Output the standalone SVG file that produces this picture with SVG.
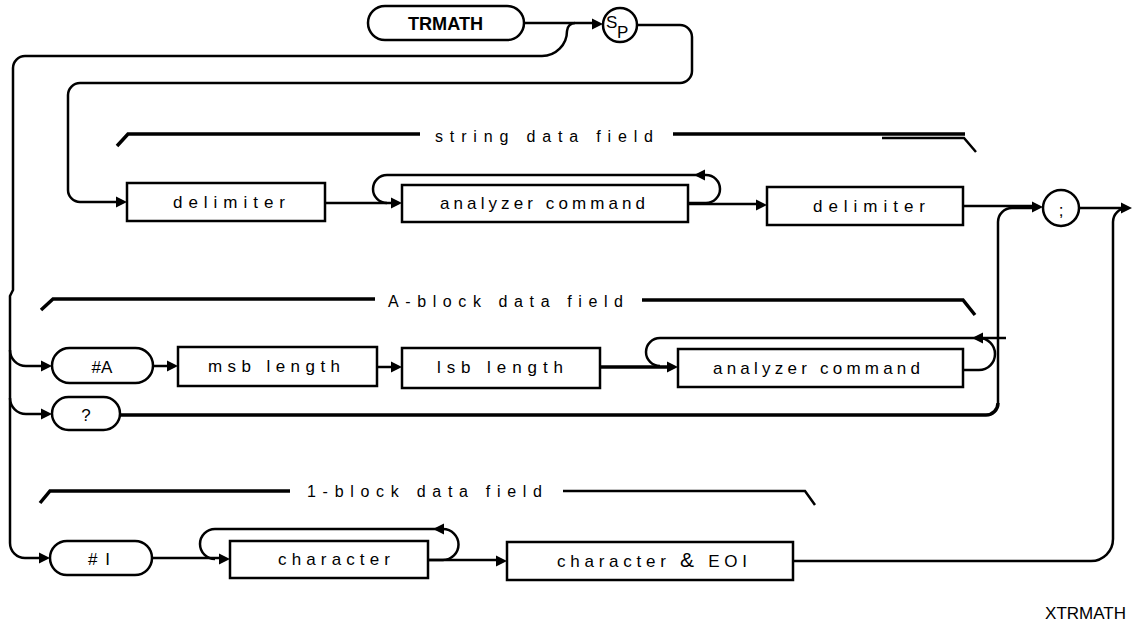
<svg xmlns="http://www.w3.org/2000/svg" xmlns:xlink="http://www.w3.org/1999/xlink" width="1132" height="625" viewBox="0 0 1132 625">
<style>
.ln{fill:none;stroke:#000;stroke-width:2.5}
.th{fill:none;stroke:#000;stroke-width:3.5}
.bx{fill:#fff;stroke:#000;stroke-width:2.5}
.t{font-family:"Liberation Sans",Arial,sans-serif;font-size:17px;fill:#000}
.f{font-family:"Liberation Sans",Arial,sans-serif;font-size:16px;fill:#000}
.b{font-family:"Liberation Sans",Arial,sans-serif;font-size:19px;font-weight:bold;fill:#000}
</style>
<defs>
<path id="ar" d="M0,0 L-11,-5.5 L-11,5.5 Z" fill="#000"/>
</defs>
<rect width="1132" height="625" fill="#fff"/>
<g id="connectors">
<path class="ln" d="M575,23 A8 8 0 0 0 567,31 A25 25 0 0 1 542,56 H25 A12 12 0 0 0 13,68 V290 L10,296 V543 A15 15 0 0 0 25,558 H40"/>
<path class="ln" d="M10,350 A16 16 0 0 0 26,366 H42"/>
<path class="ln" d="M10,398 A16 16 0 0 0 26,414 H42"/>
<path class="ln" d="M524,23 H593"/>
<path class="ln" d="M637,25 H680 A12 12 0 0 1 692,37 V71 A12 12 0 0 1 680,83 H80 A12 12 0 0 0 68,95 V190 A12 12 0 0 0 80,202 H117"/>
<path class="ln" d="M325,203 H392"/>
<path class="ln" d="M688,203 H706 A14 14 0 0 0 706,175 H387 A14 14 0 0 0 387,203"/>
<path class="ln" d="M688,204 H757"/>
<path class="ln" d="M963,206 H1033"/>
<path class="ln" d="M1079,208 H1122"/>
<path class="ln" d="M793,561 H1091 A22 22 0 0 0 1113,539 V222 A14 14 0 0 1 1127,208"/>
<path class="th" d="M120,415 H986 A12 12 0 0 0 998,403"/>
<path class="ln" d="M998,403 V222 A14 14 0 0 1 1012,208 H1033"/>
<path class="ln" d="M153,366 H168"/>
<path class="ln" d="M377,367 H392"/>
<path class="th" d="M600,367 H668"/>
<path class="ln" d="M963,370 H979 A16 16 0 0 0 979,338 H660 A14 14 0 0 0 660,366"/>
<path class="ln" d="M979,338 H1006"/>
<path class="ln" d="M152,558 H220"/>
<path class="ln" d="M428,560 H443 A15.5 15.5 0 0 0 443,529 H215 A15 15 0 0 0 215,559"/>
<path class="ln" d="M428,560 H497"/>
<use xlink:href="#ar" transform="translate(603,24)"/>
<use xlink:href="#ar" transform="translate(127,202)"/>
<use xlink:href="#ar" transform="translate(402,203)"/>
<use xlink:href="#ar" transform="translate(694,175) rotate(180)"/>
<use xlink:href="#ar" transform="translate(767,205)"/>
<use xlink:href="#ar" transform="translate(1043,207)"/>
<use xlink:href="#ar" transform="translate(1132,208)"/>
<use xlink:href="#ar" transform="translate(52,366)"/>
<use xlink:href="#ar" transform="translate(52,414)"/>
<use xlink:href="#ar" transform="translate(178,366)"/>
<use xlink:href="#ar" transform="translate(402,367)"/>
<use xlink:href="#ar" transform="translate(678,367)"/>
<use xlink:href="#ar" transform="translate(972,338) rotate(180)"/>
<use xlink:href="#ar" transform="translate(50,558)"/>
<use xlink:href="#ar" transform="translate(230,559)"/>
<use xlink:href="#ar" transform="translate(433,529) rotate(180)"/>
<use xlink:href="#ar" transform="translate(507,561)"/>
</g>
<g id="brackets">
<path class="th" d="M117,146 L128,134 H420"/>
<text class="f" x="435" y="142" textLength="218" lengthAdjust="spacing">string data field</text>
<path class="th" d="M673,134 H965"/>
<path class="ln" d="M882,138 H964 L976,152"/>
<path class="th" d="M41,310 L53,299 H375"/>
<text class="f" x="388" y="307" textLength="235" lengthAdjust="spacing">A-block data field</text>
<path class="th" d="M642,300 H963 L975,315"/>
<path class="th" d="M40,503 L50,491 H290"/>
<text class="f" x="307" y="497" textLength="235" lengthAdjust="spacing">1-block data field</text>
<path class="ln" d="M563,491 H805 L815,505"/>
</g>
<g id="trmath">
<rect class="bx" x="368" y="6" width="156" height="34" rx="17"/>
<text class="b" x="408" y="30" textLength="75" lengthAdjust="spacingAndGlyphs">TRMATH</text>
</g>
<g id="sp">
<circle class="bx" cx="620" cy="25" r="17"/>
<text class="t" x="606" y="28" font-size="18">S</text>
<text class="t" x="617" y="38" font-size="18">P</text>
</g>
<g id="delimiter1">
<rect class="bx" x="127" y="183" width="198" height="38"/>
<text class="t" x="173" y="208" textLength="112" lengthAdjust="spacing">delimiter</text>
</g>
<g id="analyzer1">
<rect class="bx" x="402" y="185" width="286" height="37"/>
<text class="t" x="440" y="209" textLength="205" lengthAdjust="spacing">analyzer command</text>
</g>
<g id="delimiter2">
<rect class="bx" x="767" y="187" width="196" height="38"/>
<text class="t" x="813" y="212" textLength="112" lengthAdjust="spacing">delimiter</text>
</g>
<g id="semicolon">
<circle class="bx" cx="1061" cy="208" r="18"/>
<text class="t" x="1061" y="216" font-size="24" text-anchor="middle">;</text>
</g>
<g id="hashA">
<rect class="bx" x="52" y="348" width="101" height="35" rx="17.5"/>
<text class="t" x="102" y="373" font-size="18" text-anchor="middle">#A</text>
</g>
<g id="msb">
<rect class="bx" x="178" y="347" width="199" height="39"/>
<text class="t" x="208" y="372" textLength="132" lengthAdjust="spacing">msb length</text>
</g>
<g id="lsb">
<rect class="bx" x="402" y="348" width="198" height="40"/>
<text class="t" x="437" y="373" textLength="126" lengthAdjust="spacing">lsb length</text>
</g>
<g id="analyzer2">
<rect class="bx" x="678" y="349" width="285" height="38" stroke-width="3"/>
<text class="t" x="713" y="374" textLength="207" lengthAdjust="spacing">analyzer command</text>
</g>
<g id="question">
<rect class="bx" x="52" y="397" width="68" height="33" rx="16.5"/>
<text class="t" x="86" y="421" font-size="18" text-anchor="middle">?</text>
</g>
<g id="hashI">
<rect class="bx" x="50" y="541" width="102" height="34" rx="17"/>
<text class="t" x="88" y="565" font-size="18" textLength="22" lengthAdjust="spacing">#I</text>
</g>
<g id="character">
<rect class="bx" x="230" y="541" width="198" height="37"/>
<text class="t" x="278" y="565" textLength="112" lengthAdjust="spacing">character</text>
</g>
<g id="charEOI">
<rect class="bx" x="507" y="542" width="286" height="38"/>
<text class="t" x="557" y="567" textLength="190" lengthAdjust="spacing">character <tspan font-size="21">&amp;</tspan> EOI</text>
</g>
<text class="t" x="1126" y="619" font-size="11" text-anchor="end">XTRMATH</text>
</svg>
